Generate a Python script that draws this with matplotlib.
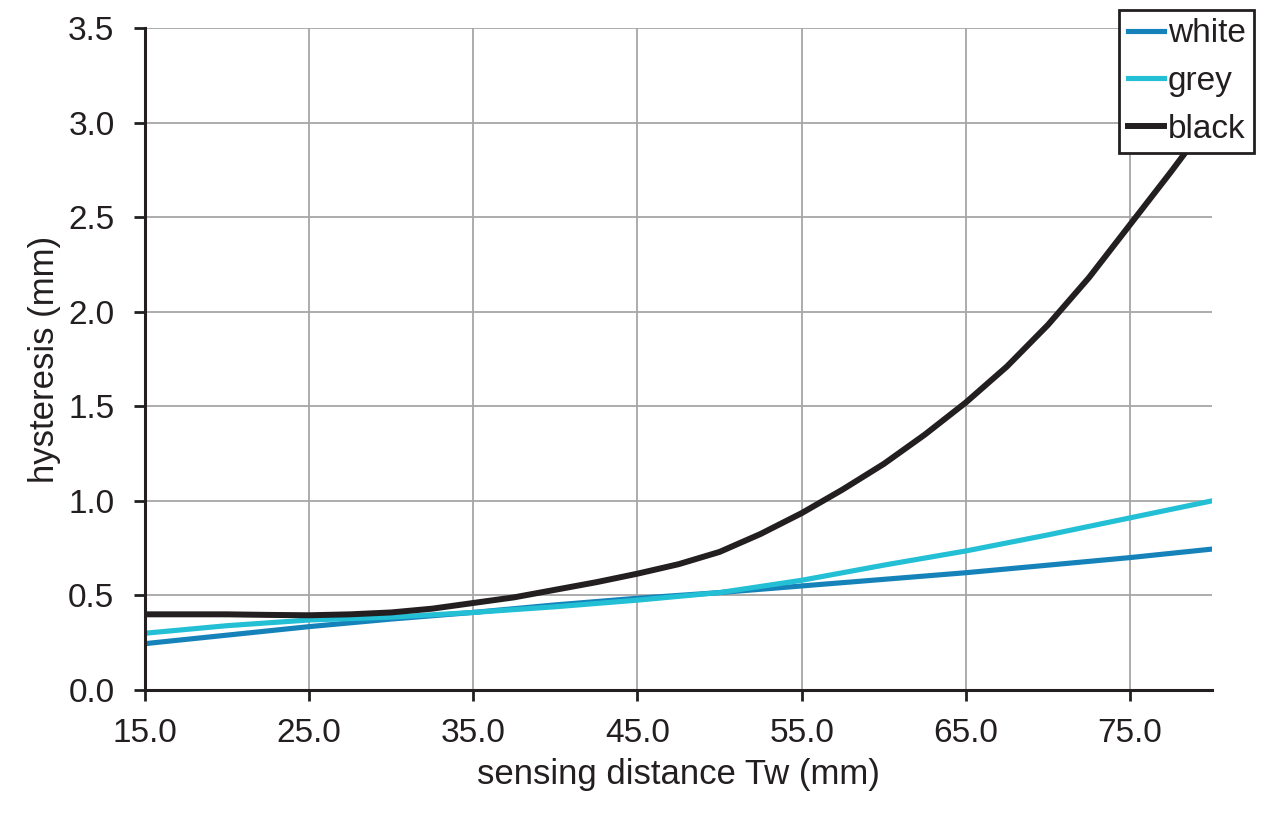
import matplotlib
matplotlib.use("Agg")
import matplotlib.pyplot as plt

plt.rcParams["font.family"] = ["Liberation Sans", "DejaVu Sans"]

# data
x_wg = [15, 20, 25, 30, 35, 40, 45, 50, 55, 60, 65, 70, 75, 80]
white = [0.245, 0.29, 0.335, 0.375, 0.41, 0.45, 0.485, 0.515, 0.55, 0.585, 0.62, 0.66, 0.70, 0.745]
grey = [0.30, 0.34, 0.37, 0.385, 0.41, 0.44, 0.475, 0.515, 0.58, 0.66, 0.735, 0.82, 0.91, 1.00]

x_black = [15, 17.5, 20, 22.5, 25, 27.5, 30, 32.5, 35, 37.5, 40, 42.5, 45, 47.5,
           50, 52.5, 55, 57.5, 60, 62.5, 65, 67.5, 70, 72.5, 75, 77.5, 80]
black = [0.40, 0.40, 0.40, 0.397, 0.395, 0.40, 0.41, 0.43, 0.46, 0.49, 0.53, 0.57, 0.615, 0.665,
         0.73, 0.825, 0.935, 1.06, 1.195, 1.35, 1.52, 1.71, 1.93, 2.18, 2.46, 2.74, 3.03]

xticks = [15, 25, 35, 45, 55, 65, 75]
yticks = [0.0, 0.5, 1.0, 1.5, 2.0, 2.5, 3.0, 3.5]

fig = plt.figure(figsize=(12.8, 8.32), dpi=100)
ax = fig.add_axes([0.1133, 0.1707, 0.8336, 0.7956])

ax.plot(x_wg, white, color="#1583ba", lw=3.7, label="white")
ax.plot(x_wg, grey, color="#22bfd5", lw=3.7, label="grey")
ax.plot(x_black, black, color="#231f20", lw=4.3, label="black")

ax.set_xlim(15, 80)
ax.set_ylim(0, 3.5)
ax.set_xticks(xticks)
ax.set_xticklabels([f"{v:.1f}" for v in xticks])
ax.set_yticks(yticks)
ax.set_yticklabels([f"{v:.1f}" for v in yticks])
ax.grid(True, color="#a6a6a6", lw=1.3)
ax.set_axisbelow(True)

for s in ["top", "right"]:
    ax.spines[s].set_visible(False)
for s in ["left", "bottom"]:
    ax.spines[s].set_linewidth(2.2)
    ax.spines[s].set_color("#231f20")
ax.tick_params(direction="out", length=8, width=2, color="#231f20",
               labelsize=24, labelcolor="#231f20")
ax.tick_params(axis="x", pad=12)
ax.tick_params(axis="y", pad=14)

ax.set_xlabel("sensing distance Tw (mm)", fontsize=25, color="#231f20", labelpad=7)
ax.set_ylabel("hysteresis (mm)", fontsize=25, color="#231f20", labelpad=5)

leg = ax.legend(loc="upper right", bbox_to_anchor=(1254 / 1280, 1 - 10 / 832),
                bbox_transform=fig.transFigure, fontsize=24, frameon=True,
                fancybox=False, handlelength=1.1, handletextpad=0.1,
                borderpad=0.25, labelspacing=0.5, borderaxespad=0)
leg.get_frame().set_edgecolor("#231f20")
leg.get_frame().set_linewidth(2)
leg.get_frame().set_alpha(1)
for t in leg.get_texts():
    t.set_color("#231f20")

fig.savefig("out.png", dpi=100)
